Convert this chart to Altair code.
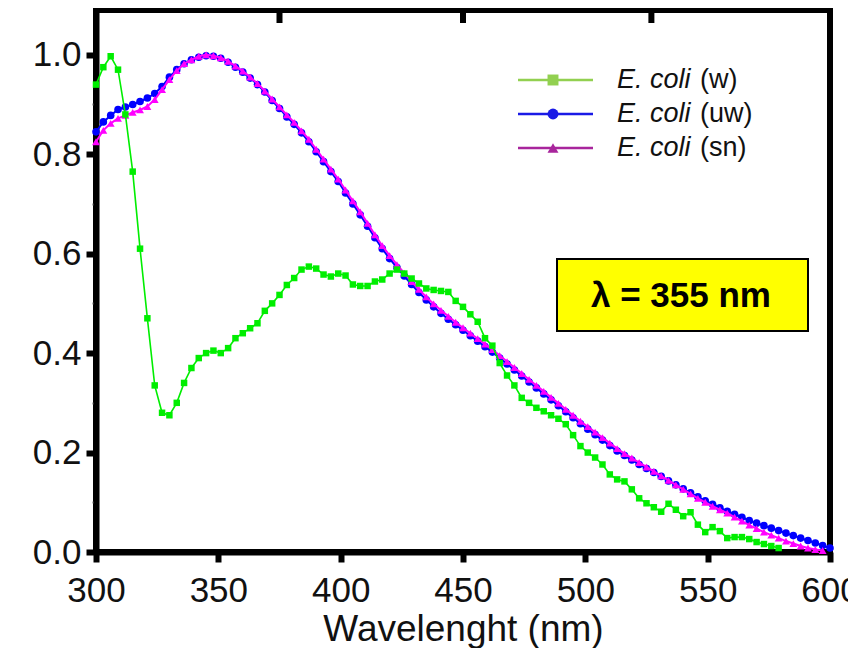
import altair as alt
import pandas as pd

# ---------------- data ----------------
wl_green = list(range(300, 580, 3))      # 300 .. 579 nm
green = [0.94, 0.975, 0.997, 0.97, 0.88, 0.765, 0.61, 0.47, 0.335, 0.28,
         0.275, 0.30, 0.34, 0.37, 0.39, 0.40, 0.405, 0.40, 0.41, 0.43,
         0.44, 0.45, 0.46, 0.485, 0.50, 0.517, 0.537, 0.551, 0.568, 0.574,
         0.57, 0.558, 0.554, 0.56, 0.556, 0.538, 0.535, 0.535, 0.544, 0.548,
         0.56, 0.568, 0.56, 0.55, 0.54, 0.53, 0.527, 0.525, 0.523, 0.505,
         0.493, 0.478, 0.463, 0.43, 0.415, 0.38, 0.355, 0.335, 0.31, 0.30,
         0.29, 0.283, 0.275, 0.268, 0.257, 0.235, 0.213, 0.20, 0.19, 0.176,
         0.156, 0.146, 0.142, 0.126, 0.108, 0.098, 0.09, 0.081, 0.097, 0.085,
         0.072, 0.08, 0.055, 0.04, 0.05, 0.042, 0.028, 0.03, 0.03, 0.026,
         0.02, 0.016, 0.012, 0.008]

wl_blue = list(range(300, 601, 3))       # 300 .. 600 nm
blue = [0.845, 0.865, 0.878, 0.89, 0.895, 0.90, 0.906, 0.913, 0.922, 0.936,
        0.955, 0.97, 0.982, 0.99, 0.995, 0.998, 0.997, 0.993, 0.985, 0.975,
        0.965, 0.953, 0.94, 0.925, 0.908, 0.892, 0.875, 0.86, 0.843, 0.825,
        0.805, 0.785, 0.765, 0.745, 0.722, 0.70, 0.678, 0.655, 0.632, 0.61,
        0.59, 0.572, 0.555, 0.538, 0.522, 0.507, 0.493, 0.48, 0.468, 0.457,
        0.446, 0.435, 0.424, 0.413, 0.402, 0.39, 0.378, 0.366, 0.354, 0.342,
        0.33, 0.318, 0.306, 0.294, 0.282, 0.27, 0.258, 0.247, 0.236, 0.225,
        0.214, 0.203, 0.194, 0.185, 0.176, 0.168, 0.16, 0.152, 0.143, 0.135,
        0.127, 0.119, 0.111, 0.103, 0.096, 0.089, 0.082, 0.076, 0.07, 0.063,
        0.058, 0.053, 0.048, 0.043, 0.038, 0.033, 0.028, 0.023, 0.018, 0.013,
        0.008]

wl_mag = list(range(300, 598, 3))        # 300 .. 597 nm
magenta = [0.825, 0.848, 0.862, 0.872, 0.878, 0.884, 0.889, 0.896, 0.91, 0.93,
           0.95, 0.968, 0.982, 0.99, 0.997, 1.0, 0.998, 0.994, 0.987, 0.977,
           0.967, 0.955, 0.942, 0.927, 0.911, 0.895, 0.879, 0.864, 0.847, 0.83,
           0.81, 0.79, 0.77, 0.75, 0.728, 0.706, 0.684, 0.661, 0.638, 0.616,
           0.596, 0.578, 0.561, 0.544, 0.528, 0.513, 0.499, 0.486, 0.474, 0.462,
           0.451, 0.44, 0.429, 0.418, 0.407, 0.395, 0.383, 0.371, 0.359, 0.347,
           0.335, 0.323, 0.311, 0.299, 0.287, 0.275, 0.263, 0.252, 0.241, 0.23,
           0.219, 0.208, 0.198, 0.189, 0.18, 0.171, 0.162, 0.153, 0.144, 0.135,
           0.126, 0.117, 0.108, 0.1, 0.092, 0.085, 0.078, 0.07, 0.062, 0.054,
           0.047, 0.04, 0.034, 0.028, 0.022, 0.017, 0.012, 0.008, 0.005, 0.003]

x_ticks = [300, 350, 400, 450, 500, 550, 600]
y_ticks = [0.0, 0.1, 0.2, 0.3, 0.4, 0.5, 0.6, 0.7, 0.8, 0.9, 1.0]
top_ticks = [375, 450, 527]

legend_labels = ["(w)", "(uw)", "(sn)"]
legend_colors = ["#92d050", "#1a1ae6", "#a8259c"]
legend_shapes = ["square", "circle", "triangle-up"]
annotation = "λ = 355 nm"

FONT = "Liberation Sans"
W, H = 734, 542

x_scale = alt.Scale(domain=[300, 600], nice=False, zero=False)
y_scale = alt.Scale(domain=[0, 1.09], nice=False, zero=False)

minor = "round(datum.value * 10) % 2 == 1"
x_axis = alt.Axis(values=x_ticks, title="Wavelenght (nm)", grid=False,
                  labelFontSize=35, titleFontSize=37, titleFontWeight="normal",
                  tickSize=10, tickWidth=6, domainWidth=6, labelPadding=11,
                  titlePadding=3, labelFlush=False, labelColor="#111",
                  titleColor="#111")
y_axis = alt.Axis(values=y_ticks, title=None, grid=False,
                  labelExpr="round(datum.value * 10) % 2 == 0 ? format(datum.value, '.1f') : ''",
                  labelFontSize=35, labelPadding=5, domainWidth=6,
                  tickSize={"condition": {"test": minor, "value": 4}, "value": 10},
                  tickWidth={"condition": {"test": minor, "value": 2}, "value": 6},
                  tickColor={"condition": {"test": minor, "value": "#666"}, "value": "black"},
                  labelColor="#111")


def series(wl, vals, color, shape, size, sw):
    df = pd.DataFrame({"wl": wl, "v": vals})
    base = alt.Chart(df).encode(
        x=alt.X("wl:Q", scale=x_scale, axis=x_axis),
        y=alt.Y("v:Q", scale=y_scale, axis=y_axis),
    )
    line = base.mark_line(color=color, strokeWidth=sw)
    pts = base.mark_point(shape=shape, filled=True, color=color, size=size, opacity=1)
    return line + pts


dummy = pd.DataFrame({"d": [0]})

# annotation box
ann_rect = alt.Chart(dummy).mark_rect(fill="#ffff00", stroke="black", strokeWidth=2).encode(
    x=alt.value(461), x2=alt.value(712), y=alt.value(249), y2=alt.value(321))
ann_text = alt.Chart(dummy).mark_text(text=annotation, font=FONT, fontSize=35, fontWeight="bold",
                                      color="black", align="center", baseline="middle").encode(
    x=alt.value(585), y=alt.value(286))

blue_l = series(wl_blue, blue, "#0000ff", "circle", 58, 2)
mag_l = series(wl_mag, magenta, "#ff00ff", "triangle-up", 62, 2)
green_l = series(wl_green, green, "#00ee00", "square", 42, 1.6)

top_tick_layer = alt.Chart(pd.DataFrame({"t": top_ticks})).mark_rule(
    color="black", strokeWidth=6).encode(
    x=alt.X("t:Q", scale=x_scale, axis=x_axis), y=alt.value(0), y2=alt.value(13))

legend_layers = []
for i, (lab, col, shp) in enumerate(zip(legend_labels, legend_colors, legend_shapes)):
    yy = 70 + 34 * i
    legend_layers.append(alt.Chart(dummy).mark_rule(color=col, strokeWidth=2.5).encode(
        x=alt.value(422), x2=alt.value(497), y=alt.value(yy)))
    legend_layers.append(alt.Chart(dummy).mark_point(shape=shp, filled=True, color=col, size=120,
                                                     opacity=1).encode(
        x=alt.value(457), y=alt.value(yy)))
    legend_layers.append(alt.Chart(dummy).mark_text(text="E. coli", font=FONT, fontSize=27,
                                                    fontStyle="italic", align="left",
                                                    baseline="middle", color="#111").encode(
        x=alt.value(521), y=alt.value(yy)))
    legend_layers.append(alt.Chart(dummy).mark_text(text=lab, font=FONT, fontSize=27,
                                                    align="left", baseline="middle",
                                                    color="#111").encode(
        x=alt.value(604), y=alt.value(yy)))

chart = alt.layer(ann_rect, ann_text, blue_l, mag_l, green_l, top_tick_layer, *legend_layers).properties(
    width=W, height=H,
    padding={"left": 88, "top": 2, "right": 18, "bottom": 96},
    autosize=alt.AutoSizeParams(type="none"),
    background="white",
).configure_view(stroke="black", strokeWidth=6).configure_axis(
    labelFont=FONT, titleFont=FONT, domainColor="black", tickColor="black")

chart.save("out.html", embed_options={"renderer": "svg", "actions": False})
